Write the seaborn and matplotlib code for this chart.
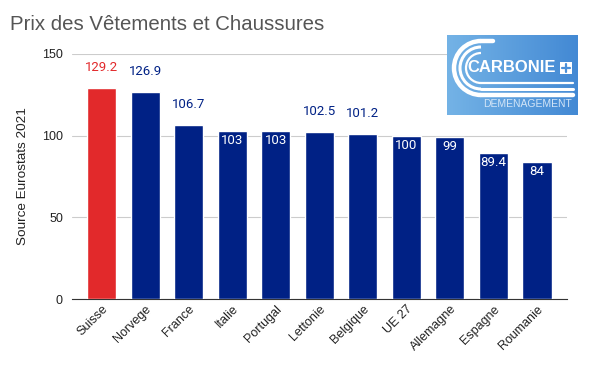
import matplotlib
matplotlib.use('Agg')
import matplotlib.pyplot as plt
import seaborn as sns
import pandas as pd
import numpy as np
from matplotlib.patches import Arc, Rectangle

# Data
pays = ['Suisse', 'Norvege', 'France', 'Italie', 'Portugal', 'Lettonie',
        'Belgique', 'UE 27', 'Allemagne', 'Espagne', 'Roumanie']
prix = [129.2, 126.9, 106.7, 103, 103, 102.5, 101.2, 100, 99, 89.4, 84]
labels = ['129.2', '126.9', '106.7', '103', '103', '102.5', '101.2', '100', '99', '89.4', '84']
inside = [False, False, False, True, True, False, False, True, True, True, True]

red = '#e2292b'
blue = '#002185'

sns.set_style('white')
plt.rcParams['font.family'] = ['Liberation Sans', 'DejaVu Sans']

df = pd.DataFrame({'pays': pays, 'prix': prix})
df['groupe'] = ['ch' if p == 'Suisse' else 'autre' for p in pays]

fig = plt.figure(figsize=(5.95, 3.67), dpi=100)
ax = fig.add_axes([72 / 595, 1 - 299 / 367, 495 / 595, 245 / 367])

sns.barplot(data=df, x='pays', y='prix', hue='groupe', dodge=False,
            palette={'ch': red, 'autre': blue}, width=0.67, legend=False,
            saturation=1, ax=ax, zorder=3)

ax.set_xlim(-0.68, 10.69)
ax.set_ylim(0, 150)
ax.set_yticks([0, 50, 100, 150])
ax.yaxis.grid(True, color='#cccccc', linewidth=0.8, zorder=0)
ax.set_axisbelow(True)
for s in ['top', 'right', 'left']:
    ax.spines[s].set_visible(False)
ax.spines['bottom'].set_color('#333333')
ax.tick_params(axis='y', length=0, labelsize=9, colors='#222222', pad=6.5)
ax.tick_params(axis='x', length=0, labelsize=9, colors='#222222', pad=3)
plt.setp(ax.get_xticklabels(), rotation=45, ha='right', rotation_mode='anchor')
ax.set_xlabel('')
ax.set_ylabel('Source Eurostats 2021', fontsize=9.7, color='#222222', labelpad=9)

for i, (v, lab, ins) in enumerate(zip(prix, labels, inside)):
    if ins:
        ax.text(i, v - 5.8, lab, ha='center', va='center', fontsize=9.5,
                color='white', family='Roboto', zorder=4)
    else:
        c = red if pays[i] == 'Suisse' else blue
        ax.text(i, v + 12.3, lab, ha='center', va='center', fontsize=9.5,
                color=c, family='Roboto', zorder=4)

fig.text(10 / 595, 1 - 25 / 367, 'Prix des Vêtements et Chaussures',
         fontsize=14.7, color='#555555', va='center')

# Logo (pixel coordinates inside its own axes)
lg = fig.add_axes([447 / 595, 1 - 115 / 367, 131 / 595, 80 / 367], zorder=10)
grad = np.linspace(0, 1, 256).reshape(1, -1)
lg.imshow(grad, cmap=matplotlib.colors.LinearSegmentedColormap.from_list(
    'logo', ['#74b3e6', '#4389d4']), extent=(0, 131, 80, 0), aspect='auto')
lg.set_xlim(0, 131)
lg.set_ylim(80, 0)
lg.axis('off')
for r, w in [(27, 3.2), (21, 2.2), (15, 1.6)]:
    lg.add_patch(Arc((34, 33), 2 * r, 2 * r, theta1=90, theta2=270,
                     color='white', linewidth=w))
lg.plot([34, 46], [6, 6], color='white', linewidth=3.2)
lg.plot([34, 126], [54, 54], color='white', linewidth=2.2)
lg.plot([34, 126], [48, 48], color='white', linewidth=1.6)
lg.plot([34, 126], [60, 60], color='white', linewidth=3.2)
lg.text(65, 33, 'CARBONIE', fontsize=12, color='white', fontweight='bold',
        ha='center', va='center')
lg.add_patch(Rectangle((113, 27), 12, 12, facecolor='white', edgecolor='none'))
lg.plot([119, 119], [29, 37], color='#4a8fd8', linewidth=1.6)
lg.plot([115, 123], [33, 33], color='#4a8fd8', linewidth=1.6)
lg.text(80, 69, 'DEMENAGEMENT', fontsize=7.5, color='#d3e5f7',
        ha='center', va='center')

fig.savefig('out.png', dpi=100)
